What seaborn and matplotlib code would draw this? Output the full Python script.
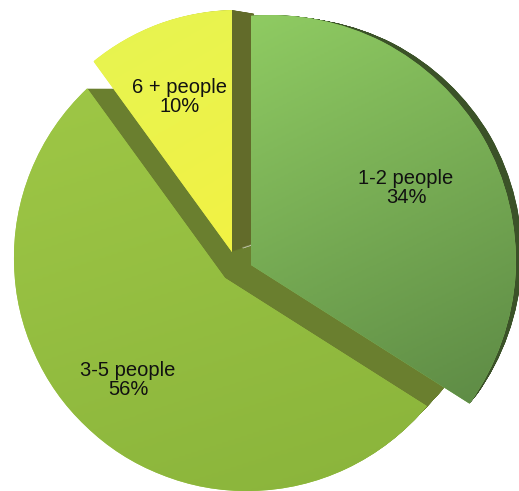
#!/usr/bin/env python3
"""Household size share - exploded pseudo-3D pie (seaborn styled)."""

import numpy as np
import matplotlib
matplotlib.use("Agg")
import matplotlib.pyplot as plt
import matplotlib.colors as mcolors
from matplotlib.path import Path
from matplotlib.patches import PathPatch, Wedge, Polygon
from matplotlib.transforms import Affine2D
import seaborn as sns

# Data
categories = ["1-2 people", "3-5 people", "6 + people"]
shares = [34, 56, 10]

# Styling (per slice, same order as categories)
face_top = ["#8fcb62", "#9ec746", "#e6f452"]
face_bottom = ["#5d8a45", "#8ab43b", "#f2f244"]
side_colors = ["#3b5228", "#6a7f2f", "#626b2a"]

# Layout in figure pixels (x right, y up): apex of each slice, offset of the
# arc centre from the apex (perspective), arc radius and extrusion depth
apex = [(251, 226), (225, 213), (232, 239)]
arc_shift = [(20, 5), (22, 20), (5, 16)]
arc_radius = [245, 233, 226]
depth = [0.03, 0.062, 0.045]
vanish = (722, 401)
label_pos = [(406, 303), (128, 111), (180, 394)]

W, H = 519, 491

sns.set_theme(style="white")
plt.rcParams["font.family"] = ["Liberation Sans", "DejaVu Sans"]


def perspective_path(theta1, theta2, center, shift, radius):
    """Unit pie wedge reshaped so its arc lies on a circle off the apex."""
    path = Wedge(center, 1.0, theta1, theta2).get_path()
    v = path.vertices.copy()
    c = np.asarray(center, dtype=float)
    s = np.asarray(shift, dtype=float)
    d = v - c
    n = np.hypot(d[:, 0], d[:, 1])
    m = n > 1e-9
    u = d[m] / n[m][:, None]
    along = u @ s
    cross = s[0] * u[:, 1] - s[1] * u[:, 0]
    dist = along + np.sqrt(radius ** 2 - cross ** 2)
    v[m] = c + d[m] * dist[:, None]
    return Path(v, path.codes)


def toward_vanish(k):
    vx, vy = vanish
    return Affine2D().translate(-vx, -vy).scale(1 - k).translate(vx, vy)


def gradient_fill(ax, patch, top, bottom, z):
    ext = patch.get_path().get_extents()
    cmap = mcolors.LinearSegmentedColormap.from_list(
        "g", sns.blend_palette([top, bottom], 8)
    )
    yy, xx = np.mgrid[0:1:200j, 0:1:200j]
    grad = 0.75 * yy + 0.25 * xx
    im = ax.imshow(
        grad,
        cmap=cmap,
        extent=[ext.x0, ext.x1, ext.y0, ext.y1],
        origin="upper",
        aspect="auto",
        interpolation="bilinear",
        zorder=z,
    )
    im.set_clip_path(patch)


fig = plt.figure(figsize=(W / 100, H / 100), dpi=100)
ax = fig.add_axes([0, 0, 1, 1])

# pie gives the wedge angles; the faces are then reshaped for the 3-D look
wedges, _ = ax.pie(
    shares, startangle=90, counterclock=False, wedgeprops=dict(linewidth=0)
)
angles = [(w.theta1, w.theta2) for w in wedges]
for w in wedges:
    w.remove()

faces = [
    perspective_path(angles[i][0], angles[i][1], apex[i], arc_shift[i], arc_radius[i])
    for i in range(len(shares))
]

# hub between the exploded slices (front and back apexes)
back = [toward_vanish(depth[i]).transform(apex[i]) for i in range(len(shares))]
hub = [apex[1], apex[2], back[2], apex[0], back[1]]
ax.add_patch(Polygon(hub, closed=True, facecolor=side_colors[1], lw=0, zorder=0.5))

# side walls: sweep each face back toward the vanishing point
draw_order = [1, 2, 0]
for i in draw_order:
    for k in np.linspace(0, depth[i], 40)[1:]:
        ax.add_patch(PathPatch(faces[i].transformed(toward_vanish(k)),
                               facecolor=side_colors[i], lw=0, zorder=1))

for i in draw_order:
    patch = PathPatch(faces[i], facecolor=face_top[i], lw=0, zorder=2)
    ax.add_patch(patch)
    gradient_fill(ax, patch, face_top[i], face_bottom[i], 3)

for i, name in enumerate(categories):
    ax.text(label_pos[i][0], label_pos[i][1], f"{name}\n{shares[i]}%",
            ha="center", va="center", fontsize=14.5, color="#111111",
            linespacing=1.05, zorder=5)

ax.set_xlim(0, W)
ax.set_ylim(0, H)
ax.set_aspect("auto")
ax.axis("off")

fig.savefig("out.png", dpi=100)
